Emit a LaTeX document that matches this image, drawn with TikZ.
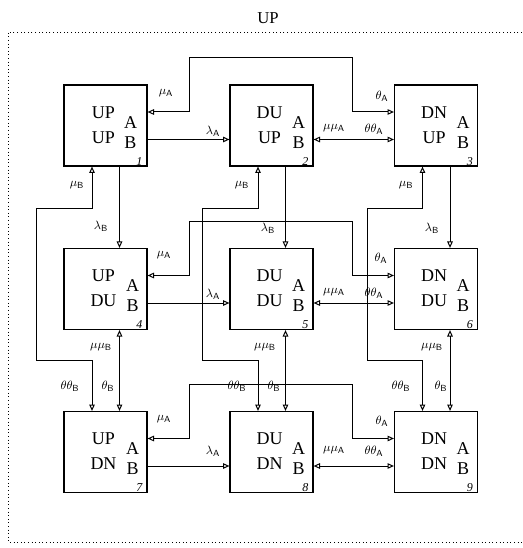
\documentclass[tikz,border=0pt]{standalone}
\usepackage{fontspec}
\setmainfont{Liberation Serif}
\usetikzlibrary{arrows.meta,calc}
\newcommand\statebox[7]{%
  \node[statebox] (#1) at (#2,#3) {};
  \node[bigtxt] (#1-l1) at ($(#1)+(-2,-13)$) {#4};
  \node[bigtxt] (#1-l2) at ($(#1)+(-2,12)$) {#5};
  \node[bigtxt] (#1-a) at ($(#1)+(#7,-3)$) {A};
  \node[bigtxt] (#1-b) at ($(#1)+(#7,17)$) {B};
  \node[numtxt, anchor=south east] (#1-n) at ($(#1.south east)+(-5,-1)$) {#6};
}
\newcommand\sub[1]{_{\mathsf{#1}}}
\begin{document}
\begin{tikzpicture}[x=0.75pt,y=-0.75pt,
  statebox/.style={draw, line width=0.9pt, minimum width=62.25pt, minimum height=60.75pt, inner sep=0pt},
  bigtxt/.style={font=\fontsize{13.5}{15}\selectfont, inner sep=0pt},
  numtxt/.style={font=\itshape\fontsize{9}{10}\selectfont, inner sep=0pt},
  lab/.style={font=\fontsize{9.5}{11}\selectfont, inner sep=0pt},
  conn/.style={line width=0.75pt},
  >={Triangle[open,length=4.8pt,width=4.2pt,line width=0.75pt]}]
\useasboundingbox (0,0) rectangle (522,548);

% title and frame
\node[font=\fontsize{12.5}{14}\selectfont, inner sep=0pt] (title) at (268,18) {UP};
\draw[dotted, line width=0.7pt] (522,32) -- (8,32) -- (8,542) -- (522,542);

% states
\statebox{b1}{105.5}{125.5}{UP}{UP}{1}{25}
\statebox{b2}{271.5}{125.5}{DU}{UP}{2}{27}
\statebox{b3}{436}{125.5}{DN}{UP}{3}{27}
\statebox{b4}{105.5}{289}{UP}{DU}{4}{27}
\statebox{b5}{271.5}{289}{DU}{DU}{5}{27}
\statebox{b6}{436}{289}{DN}{DU}{6}{27}
\statebox{b7}{105.5}{452}{UP}{DN}{7}{27}
\statebox{b8}{271.5}{452}{DU}{DN}{8}{27}
\statebox{b9}{436}{452}{DN}{DN}{9}{27}

% horizontal connectors
\foreach \l/\m/\r in {b1/b2/b3, b4/b5/b6, b7/b8/b9}{
  \draw[conn,<->] ($(\l.east)+(0,-13.5)$) -- ++(42,0) -- ++(0,-54)
     -| ($(\r.west)+(-41.5,-13.5)$) -- ($(\r.west)+(0,-13.5)$);
  \draw[conn,->] ($(\l.east)+(0,14)$) -- ($(\m.west)+(0,14)$);
  \draw[conn,<->] ($(\m.east)+(0,14)$) -- ($(\r.west)+(0,14)$);
}

% vertical connectors
\foreach \t/\m/\b in {b1/b4/b7, b2/b5/b8, b3/b6/b9}{
  \draw[conn,->] ($(\t.south)+(14,0)$) -- ($(\m.north)+(14,0)$);
  \draw[conn,<->] ($(\m.south)+(14,0)$) -- ($(\b.north)+(14,0)$);
  \draw[conn,<->] ($(\t.south)+(-13.5,0)$) -- ++(0,41.5)
     -| ($(\b.north)+(-69,-50)$) -| ($(\b.north)+(-13.5,0)$);
}

% row labels
\node[lab] (r1mu) at (166,93) {$\mu\sub{A}$};
\node[lab] (r1la) at (213,131) {$\lambda\sub{A}$};
\node[lab] (r1mm) at (334,128) {$\mu\mu\sub{A}$};
\node[lab] (r1tt) at (374,129) {$\theta\theta\sub{A}$};
\node[lab] (r1th) at (382,96) {$\theta\sub{A}$};
\node[lab] (r2mu) at (164,255) {$\mu\sub{A}$};
\node[lab] (r2la) at (213,294) {$\lambda\sub{A}$};
\node[lab] (r2mm) at (334,292) {$\mu\mu\sub{A}$};
\node[lab] (r2tt) at (374,293) {$\theta\theta\sub{A}$};
\node[lab] (r2th) at (381,258) {$\theta\sub{A}$};
\node[lab] (r3mu) at (164,419) {$\mu\sub{A}$};
\node[lab] (r3la) at (213,451) {$\lambda\sub{A}$};
\node[lab] (r3mm) at (334,450) {$\mu\mu\sub{A}$};
\node[lab] (r3tt) at (374,451) {$\theta\theta\sub{A}$};
\node[lab] (r3th) at (382,421) {$\theta\sub{A}$};

% column labels
\node[lab] (c1mu) at (77,185) {$\mu\sub{B}$};
\node[lab] (c1la) at (101,226) {$\lambda\sub{B}$};
\node[lab] (c1mm) at (101,347) {$\mu\mu\sub{B}$};
\node[lab] (c1tt) at (70,386) {$\theta\theta\sub{B}$};
\node[lab] (c1th) at (108,386) {$\theta\sub{B}$};
\node[lab] (c2mu) at (242,185) {$\mu\sub{B}$};
\node[lab] (c2la) at (268,228) {$\lambda\sub{B}$};
\node[lab] (c2mm) at (265,347) {$\mu\mu\sub{B}$};
\node[lab] (c2tt) at (237,386) {$\theta\theta\sub{B}$};
\node[lab] (c2th) at (274,386) {$\theta\sub{B}$};
\node[lab] (c3mu) at (406,185) {$\mu\sub{B}$};
\node[lab] (c3la) at (432,228) {$\lambda\sub{B}$};
\node[lab] (c3mm) at (432,347) {$\mu\mu\sub{B}$};
\node[lab] (c3tt) at (401,386) {$\theta\theta\sub{B}$};
\node[lab] (c3th) at (441,386) {$\theta\sub{B}$};
\end{tikzpicture}
\end{document}
